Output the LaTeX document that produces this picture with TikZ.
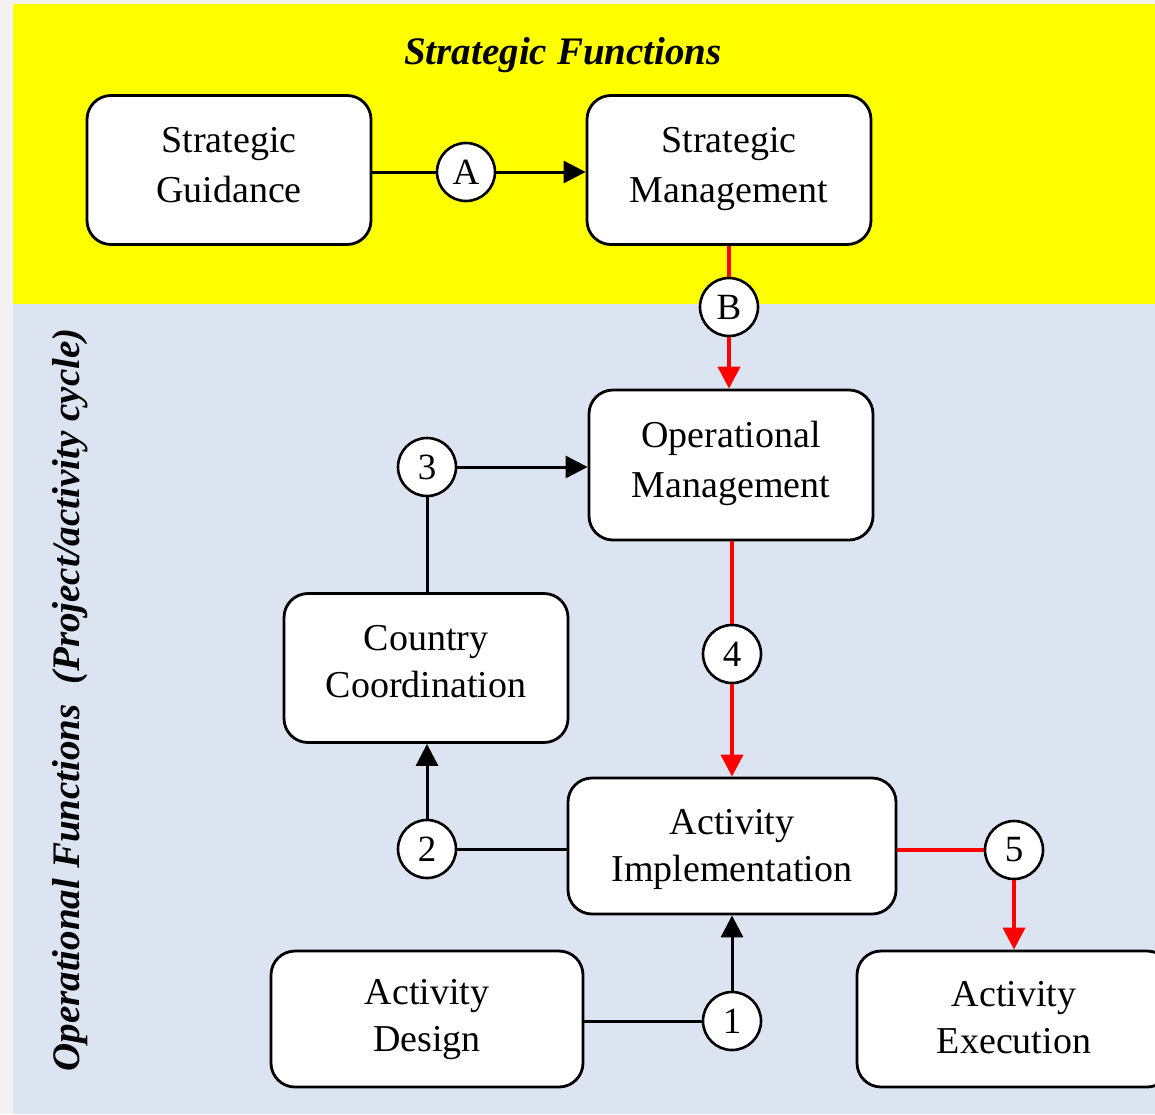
\documentclass[tikz,border=0pt]{standalone}
\usepackage{fontspec}
\setmainfont{Liberation Serif}
\usetikzlibrary{arrows.meta}
\definecolor{panelyellow}{RGB}{255,255,0}
\definecolor{panelblue}{RGB}{219,228,240}
\definecolor{outergray}{RGB}{243,242,240}
\definecolor{linkred}{RGB}{255,0,0}
\newcommand{\lift}[1]{\rule[-#1]{0pt}{0pt}}
\tikzset{
  box/.style={draw=black, line width=2.8pt, fill=white, rounded corners=24pt,
    align=center, font=\fontsize{38}{47}\selectfont, inner sep=0pt},
  badge/.style={circle, draw=black, line width=2.6pt, fill=white, minimum size=58pt,
    inner sep=0pt, font=\fontsize{37}{40}\selectfont},
  blk/.style={draw=black, line width=3pt},
  rd/.style={draw=linkred, line width=4pt},
  tip/.style={-{Triangle[length=22pt,width=22pt]}},
  paneltitle/.style={font=\fontsize{39}{44}\selectfont\bfseries\itshape}
}
\begin{document}
\begin{tikzpicture}[x=1pt,y=-1pt]
\useasboundingbox (0,0) rectangle (1155,1114);
\fill[outergray] (0,0) rectangle (1155,1114);
\fill[panelyellow] (13,4) rectangle (1155,304);
\fill[panelblue] (13,304) rectangle (1155,1114);

\node[paneltitle] (title) at (563,55) {Strategic Functions};
\node[paneltitle, rotate=90] (vtitle) at (70,700) {Operational Functions\ \ (Project/activity cycle)};

\node[box, minimum width=284pt, minimum height=149pt] (sg) at (229,170) {Strategic\\[3pt]Guidance\lift{11pt}};
\node[box, minimum width=284pt, minimum height=149pt] (sm) at (729,170) {Strategic\\[3pt]Management\lift{11pt}};
\node[box, minimum width=284pt, minimum height=150pt] (om) at (731,465) {Operational\\[3pt]Management\lift{11pt}};
\node[box, minimum width=284pt, minimum height=149pt] (cc) at (426,668) {Country\\Coordination\lift{14pt}};
\node[box, minimum width=328pt, minimum height=136pt] (ai) at (732,846) {Activity\rule{0pt}{32pt}\\Implementation};
\node[box, minimum width=312pt, minimum height=136pt] (ad) at (427,1019) {Activity\\Design\lift{4pt}};
\node[box, minimum width=314pt, minimum height=136pt] (ae) at (1014,1019) {Activity\\Execution\lift{4pt}};

\node[badge] (ca) at (466,172) {A};
\node[badge] (cb) at (729,307) {B};
\node[badge] (c3) at (427,467) {3};
\node[badge] (c4) at (732,654) {4};
\node[badge] (c2) at (427,849) {2};
\node[badge] (c5) at (1014,850) {5};
\node[badge] (c1) at (732,1021) {1};

% A
\draw[blk] (sg.east |- ca) -- (ca);
\draw[blk, tip] (ca) -- (sm.west |- ca);
% B (red)
\draw[rd] (sm.south -| cb) -- (cb);
\draw[rd, tip] (cb) -- (cb |- om.north);
% 3
\draw[blk] (cc.north -| c3) -- (c3);
\draw[blk, tip] (c3) -- (c3 -| om.west);
% 4 (red)
\draw[rd] (om.south -| c4) -- (c4);
\draw[rd, tip] (c4) -- (c4 |- ai.north);
% 2
\draw[blk] (ai.west |- c2) -- (c2);
\draw[blk, tip] (c2) -- (c2 |- cc.south);
% 5 (red)
\draw[rd] (ai.east |- c5) -- (c5);
\draw[rd, tip] (c5) -- (c5 |- ae.north);
% 1
\draw[blk] (ad.east |- c1) -- (c1);
\draw[blk, tip] (c1) -- (c1 |- ai.south);
\end{tikzpicture}
\end{document}
